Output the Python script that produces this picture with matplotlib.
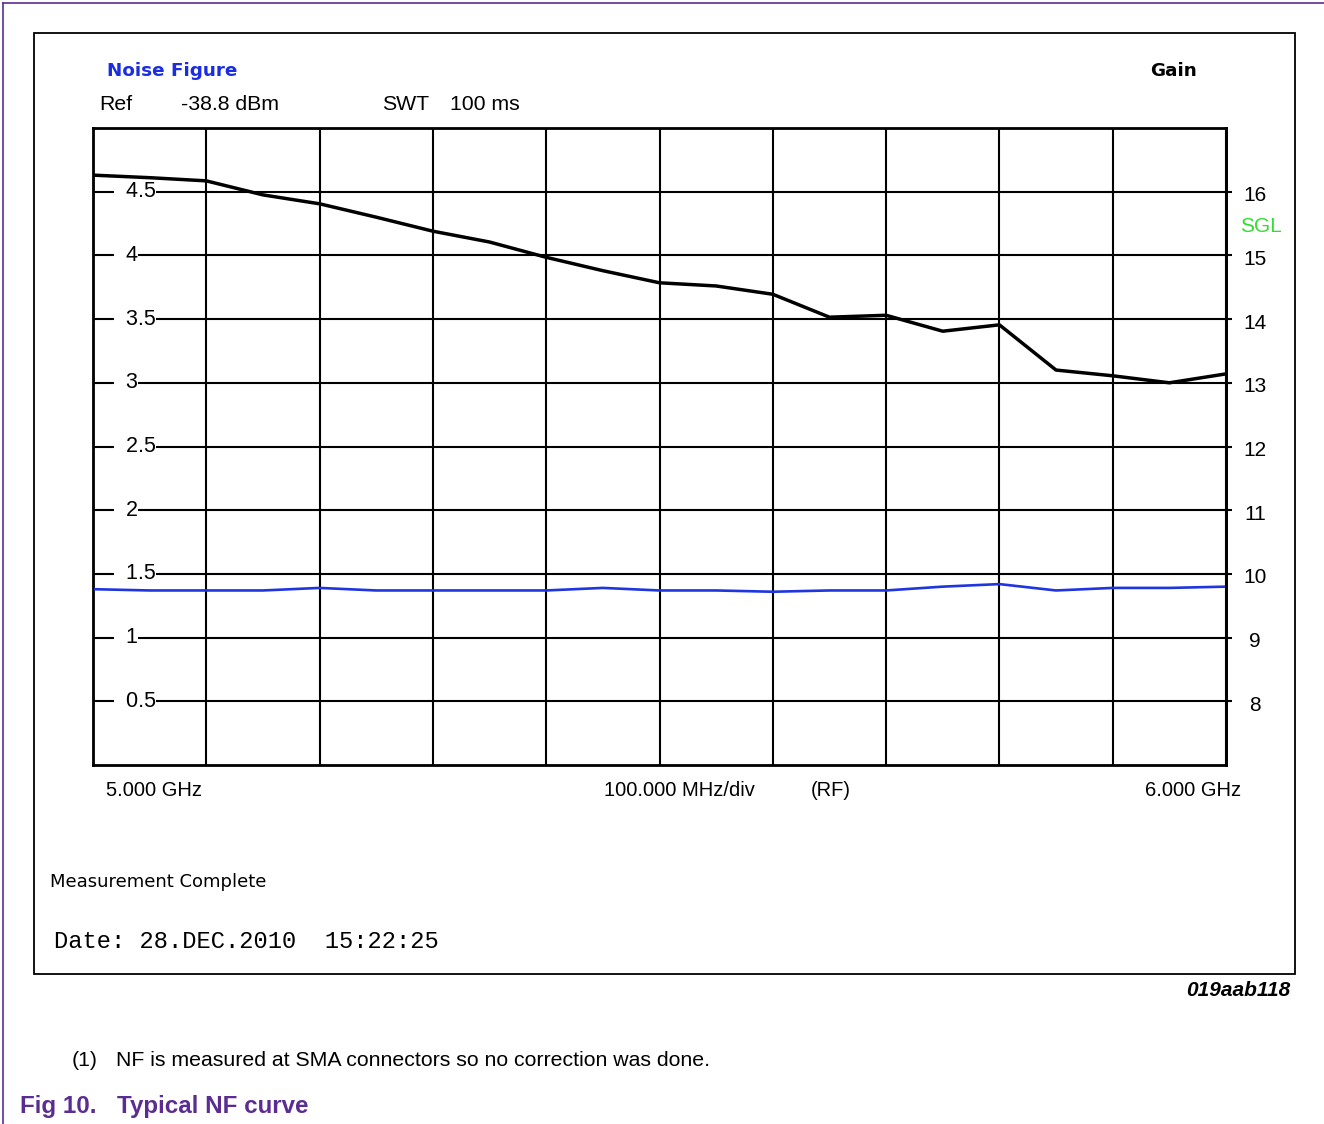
import matplotlib
matplotlib.use("Agg")
import matplotlib.pyplot as plt
import matplotlib.transforms as mtransforms
from matplotlib.patches import Rectangle
from matplotlib.lines import Line2D

W, H = 1324, 1124

freq_ghz = [5.00, 5.05, 5.10, 5.15, 5.20, 5.25, 5.30, 5.35, 5.40, 5.45, 5.50,
            5.55, 5.60, 5.65, 5.70, 5.75, 5.80, 5.85, 5.90, 5.95, 6.00]
gain_db = [16.26, 16.22, 16.17, 15.95, 15.81, 15.60, 15.38, 15.21, 14.97, 14.76, 14.57,
           14.52, 14.39, 14.03, 14.06, 13.81, 13.91, 13.20, 13.11, 13.00, 13.14]
nf_db = [1.38, 1.37, 1.37, 1.37, 1.39, 1.37, 1.37, 1.37, 1.37, 1.39, 1.37,
         1.37, 1.36, 1.37, 1.37, 1.40, 1.42, 1.37, 1.39, 1.39, 1.40]

nf_ticks = [0.5, 1, 1.5, 2, 2.5, 3, 3.5, 4, 4.5]
nf_labels = ["0.5", "1", "1.5", "2", "2.5", "3", "3.5", "4", "4.5"]
gain_ticks = [8, 9, 10, 11, 12, 13, 14, 15, 16]

SANS = "Liberation Sans"
PURPLE = "#5b2d90"


def fx(x):
    return x / W


def fy(y):
    return 1 - y / H


fig = plt.figure(figsize=(W / 100, H / 100), dpi=100)
fig.patch.set_facecolor("white")

# page frame lines
fig.add_artist(Line2D([fx(3), fx(3)], [0, fy(3)], color=PURPLE, lw=1.2, transform=fig.transFigure))
fig.add_artist(Line2D([fx(3), 1], [fy(3), fy(3)], color=PURPLE, lw=1.2, transform=fig.transFigure))

# screenshot box
fig.add_artist(Rectangle((fx(34), fy(974)), fx(1295) - fx(34), fy(33) - fy(974),
                         fill=False, ec="black", lw=1.3, transform=fig.transFigure))

ax = fig.add_axes([fx(93), fy(765), fx(1226) - fx(93), fy(128) - fy(765)])
ax.set_xlim(5.0, 6.0)
ax.set_ylim(0, 5)
ax.set_xticks([5.0 + 0.1 * i for i in range(11)])
ax.set_yticks(nf_ticks)
ax.grid(True, color="black", lw=1.5)
ax.tick_params(length=0, labelleft=False, labelbottom=False)
for s in ax.spines.values():
    s.set_linewidth(2.0)

ax2 = ax.twinx()
ax2.set_ylim(7, 17)
ax2.set_yticks(gain_ticks)
ax2.tick_params(axis="y", direction="out", length=4.5, width=1.5, labelright=False)
ax2.spines["right"].set_linewidth(2.0)

ax.plot(freq_ghz, nf_db, color="#1f35e0", lw=1.9, zorder=5)
ax2.plot(freq_ghz, gain_db, color="black", lw=2.5, zorder=5)

# left scale labels sit on the grid lines
left_tr = ax.get_yaxis_transform()
for v, lab in zip(nf_ticks, nf_labels):
    ax.text((114 - 93) / (1226 - 93), v, "  " + lab, transform=left_tr, ha="left", va="center",
            fontsize=15.5, family=SANS, zorder=4,
            bbox=dict(boxstyle="square,pad=0", fc="white", ec="none"))

right_tr = mtransforms.offset_copy(ax2.get_yaxis_transform(), fig=fig, y=-4, units="dots")
for g in gain_ticks:
    ax2.text((1255 - 93) / (1226 - 93), g, str(g), transform=right_tr, ha="center", va="center",
             fontsize=15, family=SANS, clip_on=False)

# header texts
fig.text(fx(107), fy(71), "Noise Figure", color="#1a2de0", fontsize=13.2, fontweight="bold",
         family="DejaVu Sans", va="center")
fig.text(fx(1150), fy(71), "Gain", color="black", fontsize=13.2, fontweight="bold",
         family="DejaVu Sans", va="center")
fig.text(fx(99), fy(104), "Ref", fontsize=15.3, family=SANS, va="center")
fig.text(fx(181), fy(104), "-38.8 dBm", fontsize=15.3, family=SANS, va="center")
fig.text(fx(382), fy(104), "SWT", fontsize=15.3, family=SANS, va="center")
fig.text(fx(450), fy(104), "100 ms", fontsize=15.3, family=SANS, va="center")
fig.text(fx(1240), fy(227), "SGL", color="#33dd33", fontsize=15, family=SANS, va="center")

# bottom axis texts
fig.text(fx(106), fy(790), "5.000 GHz", fontsize=14.5, family=SANS, va="center")
fig.text(fx(604), fy(790), "100.000 MHz/div", fontsize=14.5, family=SANS, va="center")
fig.text(fx(811), fy(790), "(RF)", fontsize=14.5, family=SANS, va="center")
fig.text(fx(1241), fy(790), "6.000 GHz", fontsize=14.5, family=SANS, va="center", ha="right")

fig.text(fx(50), fy(882), "Measurement Complete", fontsize=13, family="DejaVu Sans", va="center")
fig.text(fx(54), fy(942), "Date: 28.DEC.2010  15:22:25", fontsize=17.1, family="Liberation Mono",
         va="center")

fig.text(fx(1290), fy(990), "019aab118", fontsize=15, family=SANS, fontweight="bold",
         fontstyle="italic", ha="right", va="center")
fig.text(fx(72), fy(1061), "(1)", fontsize=15.3, family=SANS, va="center")
fig.text(fx(116), fy(1061), "NF is measured at SMA connectors so no correction was done.",
         fontsize=15.3, family=SANS, va="center")
fig.text(fx(20), fy(1107), "Fig 10.", fontsize=17.4, family=SANS, fontweight="bold",
         color=PURPLE, va="center")
fig.text(fx(117), fy(1107), "Typical NF curve", fontsize=17.4, family=SANS, fontweight="bold",
         color=PURPLE, va="center")

fig.savefig("out.png", dpi=100)
